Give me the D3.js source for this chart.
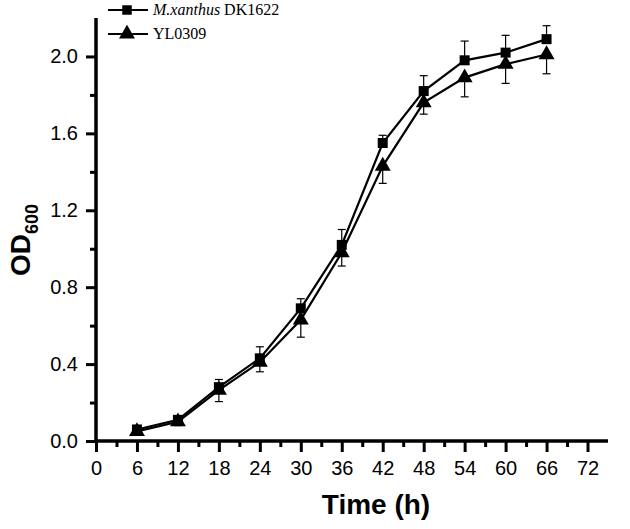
<!DOCTYPE html>
<html><head><meta charset="utf-8">
<script src="https://d3js.org/d3.v7.min.js"></script>
<style>body{margin:0;background:#fff}svg{display:block}</style>
</head><body>
<script>
const times = [6,12,18,24,30,36,42,48,54,60,66];
const dk1622 = [0.06,0.11,0.28,0.43,0.69,1.02,1.55,1.82,1.98,2.02,2.09];
const dk1622Err = [0.02,0.02,0.04,0.06,0.05,0.08,0.04,0.08,0.10,0.09,0.07];
const yl0309 = [0.05,0.10,0.265,0.41,0.63,0.98,1.43,1.76,1.89,1.96,2.01];
const yl0309Err = [0.02,0.02,0.06,0.05,0.09,0.07,0.09,0.06,0.10,0.10,0.10];
const xTicks = [0,6,12,18,24,30,36,42,48,54,60,66,72];
const yTicks = [0.0,0.4,0.8,1.2,1.6,2.0];

const W=630,H=529;
const svg=d3.select("body").append("svg").attr("width",W).attr("height",H);
const x=d3.scaleLinear().domain([0,75]).range([96,608]);
const y=d3.scaleLinear().domain([0,2.2]).range([441,18]);

// axes
const xAxis=d3.axisBottom(x).tickValues(xTicks).tickFormat(d3.format("d")).tickSize(11).tickPadding(9);
const gx=svg.append("g").attr("transform","translate(0,441)").call(xAxis);
const gxm=svg.append("g").attr("transform","translate(0,441)").call(d3.axisBottom(x).tickValues(d3.range(3,75,6)).tickSize(6).tickFormat(""));
const yAxis=d3.axisLeft(y).tickValues(yTicks).tickFormat(d3.format(".1f")).tickSize(10).tickPadding(8);
const gy=svg.append("g").attr("transform","translate(96,0)").call(yAxis);
const gym=svg.append("g").attr("transform","translate(96,0)").call(d3.axisLeft(y).tickValues([0.2,0.6,1.0,1.4,1.8]).tickSize(6).tickFormat(""));
[gx,gxm,gy,gym].forEach(g=>{
  g.select(".domain").style("stroke","#000").style("stroke-width","3px").attr("d",g===gx||g===gxm?`M96,0H608`:`M0,441V18`);
  g.selectAll(".tick line").style("stroke","#000").style("stroke-width","3px");
  g.selectAll("text").attr("fill","#000").style("font-family","Liberation Sans, Arial, sans-serif").style("font-size","20px");
});

// axis titles
svg.append("text").attr("x",376).attr("y",514).attr("text-anchor","middle")
  .style("font-family","Liberation Sans, Arial, sans-serif").style("font-weight","bold").style("font-size","28px").text("Time (h)");
const yl=svg.append("text").attr("transform","translate(30,240) rotate(-90)").attr("text-anchor","middle")
  .style("font-family","Liberation Sans, Arial, sans-serif").style("font-weight","bold").style("font-size","28px");
yl.append("tspan").text("OD");
yl.append("tspan").attr("dy",8).style("font-size","18px").text("600");

// series
const series=[
  {name:"dk",vals:dk1622,err:dk1622Err,sym:d3.symbolSquare,size:100},
  {name:"yl",vals:yl0309,err:yl0309Err,sym:d3.symbolTriangle,size:110}
];
const line=d3.line().x(d=>x(d[0])).y(d=>y(d[1]));
series.forEach(s=>{
  const pts=times.map((t,i)=>[t,s.vals[i],s.err[i]]);
  const eb=svg.append("g").attr("stroke","#000").attr("stroke-width",1.2);
  pts.forEach(p=>{
    const up = s.name==="dk";
    const y1=y(p[1]), y2=y(up? p[1]+p[2] : p[1]-p[2]);
    eb.append("line").attr("x1",x(p[0])).attr("x2",x(p[0])).attr("y1",y1).attr("y2",y2);
    eb.append("line").attr("x1",x(p[0])-4).attr("x2",x(p[0])+4).attr("y1",y2).attr("y2",y2);
  });
  svg.append("path").attr("d",line(pts)).attr("fill","none").attr("stroke","#000").attr("stroke-width",2.2);
  svg.append("g").selectAll("path").data(pts).join("path")
    .attr("transform",d=>`translate(${x(d[0])},${y(d[1])})`)
    .attr("d",d3.symbol().type(s.sym).size(s.size)).attr("fill","#000");
});

// legend
const legend=[{label:["M.xanthus"," DK1622"],sym:d3.symbolSquare,size:90,yy:10},{label:["","YL0309"],sym:d3.symbolTriangle,size:110,yy:34}];
legend.forEach(l=>{
  svg.append("line").attr("x1",108).attr("x2",148).attr("y1",l.yy).attr("y2",l.yy).attr("stroke","#000").attr("stroke-width",2);
  svg.append("path").attr("transform",`translate(127,${l.yy})`).attr("d",d3.symbol().type(l.sym).size(l.size)).attr("fill","#000");
  const t=svg.append("text").attr("x",153).attr("y",l.yy+5).style("font-family","Liberation Serif, Times New Roman, serif").style("font-size","16px");
  if(l.label[0]) t.append("tspan").style("font-style","italic").text(l.label[0]);
  t.append("tspan").text(l.label[1]);
});
</script>
</body></html>
